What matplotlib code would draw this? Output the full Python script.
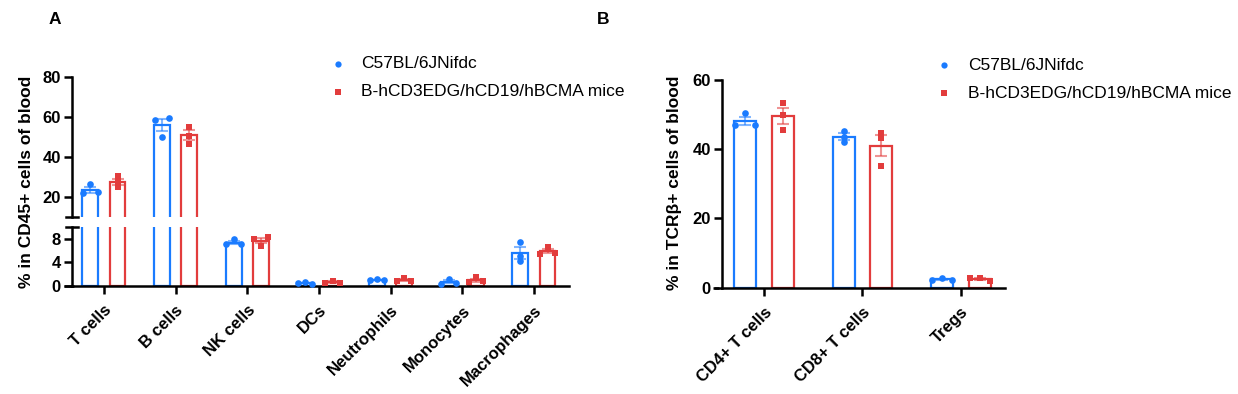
import numpy as np
import matplotlib
matplotlib.use("Agg")
import matplotlib.pyplot as plt
from matplotlib.lines import Line2D
import matplotlib.transforms as mtransforms

plt.rcParams['font.family'] = ['Liberation Sans', 'DejaVu Sans']

# ---------------- data ----------------
cats_A = ['T cells', 'B cells', 'NK cells', 'DCs', 'Neutrophils', 'Monocytes', 'Macrophages']
wt_A = [[22.5, 26.5, 22.3],
        [58.8, 50.3, 59.8],
        [7.1, 7.9, 7.0],
        [0.4, 0.6, 0.5],
        [1.0, 1.1, 1.0],
        [0.5, 1.2, 0.4],
        [7.5, 5.0, 4.3]]
tg_A = [[30.5, 27.8, 25.3],
        [55.3, 50.8, 46.7],
        [8.2, 7.9, 6.8],
        [0.5, 0.9, 0.5],
        [0.9, 1.3, 0.8],
        [0.8, 1.5, 0.7],
        [6.6, 5.6, 5.4]]

cats_B = ['CD4+ T cells', 'CD8+ T cells', 'Tregs']
wt_B = [[46.9, 50.6, 46.9],
        [45.3, 43.5, 42.1],
        [2.2, 2.8, 2.3]]
tg_B = [[53.3, 49.8, 45.6],
        [44.8, 43.2, 35.2],
        [2.0, 2.9, 2.7]]

series_names = ['C57BL/6JNifdc', 'B-hCD3EDG/hCD19/hBCMA mice']
ylabel_A = '% in CD45+ cells of blood'
ylabel_B = '% in TCR\u03b2+ cells of blood'
yticks_A_top = [20, 40, 60, 80]
yticks_A_bot = [0, 4, 8]
yticks_B = [0, 20, 40, 60]

BLUE = '#1a7bff'
RED = '#e23c3c'
colors = [BLUE, RED]
markers = ['o', 's']

W, H = 1238, 394
DPI = 100
fig = plt.figure(figsize=(W / DPI, H / DPI), dpi=DPI)


def px_rect(x0, y0, x1, y1):
    return [x0 / W, 1 - y1 / H, (x1 - x0) / W, (y1 - y0) / H]


SPW = 1.8
TICKL = 6.0
TICKFS = 12


def style_axis(ax, show_x=True):
    for s in ['top', 'right']:
        ax.spines[s].set_visible(False)
    for s in ['left', 'bottom']:
        ax.spines[s].set_linewidth(SPW)
    ax.tick_params(axis='both', width=SPW, length=TICKL, labelsize=TICKFS, pad=2)
    for lab in ax.get_yticklabels():
        lab.set_fontweight('bold')
    if not show_x:
        ax.spines['bottom'].set_visible(False)
        ax.tick_params(axis='x', bottom=False, labelbottom=False)


def mean_sem(v):
    v = np.asarray(v, float)
    return v.mean(), v.std(ddof=1) / np.sqrt(len(v))


BW = 0.22
OFF = 0.19
STEP = 0.1


def swarm_offsets(ax, vals, thresh_px=3.6):
    # cluster points that lie close together in pixel space and spread them sideways
    vals = list(vals)
    ypx = [ax.transData.transform((0, v))[1] for v in vals]
    order = sorted(range(len(vals)), key=lambda i: ypx[i])
    clusters = [[order[0]]]
    for i in order[1:]:
        if ypx[i] - ypx[clusters[-1][-1]] < thresh_px:
            clusters[-1].append(i)
        else:
            clusters.append([i])
    offs = [0.0] * len(vals)
    for cl in clusters:
        if len(cl) == 2:
            offs[cl[0]] = -STEP
            offs[cl[1]] = STEP
        elif len(cl) >= 3:
            desc = sorted(cl, key=lambda i: -ypx[i])
            pattern = [0, -STEP, STEP, -2 * STEP, 2 * STEP]
            for j, i in enumerate(desc):
                offs[i] = pattern[j % len(pattern)]
    return offs


def draw_series(axes_list, data, k):
    col = colors[k]
    sign = -1 if k == 0 else 1
    for i, vals in enumerate(data):
        xc = i + sign * OFF
        m, se = mean_sem(vals)
        for ax in axes_list:
            ax.bar(xc, m, width=BW, facecolor='white', edgecolor=col, linewidth=1.6, zorder=2)
            ax.errorbar(xc, m, yerr=se, fmt='none', ecolor=col, alpha=0.55, elinewidth=1.5,
                        capsize=4, capthick=1.5, zorder=4)
        for ax in axes_list:
            lo, hi = ax.get_ylim()
            sel = [v for v in vals if lo <= v <= hi]
            if not sel:
                continue
            offs = swarm_offsets(ax, sel)
            ax.plot([xc + o for o in offs], sel, linestyle='none', marker=markers[k],
                    markersize=4.8 if k == 0 else 4.6, color=col, markeredgewidth=0, zorder=5,
                    clip_on=False)


def xlabels(ax, cats):
    ax.set_xticks(range(len(cats)))
    ax.set_xticklabels(cats, rotation=45, ha='right', va='top', rotation_mode='anchor',
                       fontweight='bold', fontsize=12)
    ax.tick_params(axis='x', pad=6)


def extend_xaxis(ax, px):
    trans = mtransforms.blended_transform_factory(ax.transAxes, ax.transAxes)
    off = mtransforms.ScaledTranslation(-px / DPI, 0, fig.dpi_scale_trans)
    ax.add_line(Line2D([0, 0.02], [0, 0], transform=trans + off, color='black',
                       linewidth=SPW, clip_on=False, solid_capstyle='butt'))


# ---------------- Panel A (broken axis) ----------------
xlimA = (-0.446, 6.49)
axA_top = fig.add_axes(px_rect(72, 77.3, 569, 217.3))
axA_bot = fig.add_axes(px_rect(72, 226.7, 569, 286))
axA_top.set_ylim(10, 80)
axA_bot.set_ylim(0, 10)
for ax in (axA_top, axA_bot):
    ax.set_xlim(*xlimA)
axA_top.set_yticks(yticks_A_top)
axA_bot.set_yticks(yticks_A_bot)
style_axis(axA_top, show_x=False)
style_axis(axA_bot)
xlabels(axA_bot, cats_A)
extend_xaxis(axA_bot, 8)

draw_series([axA_top, axA_bot], wt_A, 0)
draw_series([axA_top, axA_bot], tg_A, 1)

# break caps
for ax, yy in ((axA_top, 0), (axA_bot, 1)):
    trans = mtransforms.blended_transform_factory(ax.transAxes, ax.transAxes)
    l = Line2D([-6 / 497, 6 / 497], [yy, yy], transform=trans, color='black',
               linewidth=SPW, clip_on=False)
    ax.add_line(l)

fig.text(27 / W, 1 - 182 / H, ylabel_A, rotation=90, ha='center', va='center',
         fontsize=12.5, fontweight='bold')

# ---------------- Panel B ----------------
axB = fig.add_axes(px_rect(722, 80, 1005, 287.7))
axB.set_xlim(-0.426, 2.447)
axB.set_ylim(0, 60)
axB.set_yticks(yticks_B)
style_axis(axB)
xlabels(axB, cats_B)
extend_xaxis(axB, 9)
draw_series([axB], wt_B, 0)
draw_series([axB], tg_B, 1)
fig.text(675 / W, 1 - 183 / H, ylabel_B, rotation=90, ha='center', va='center',
         fontsize=12.5, fontweight='bold')

# ---------------- legends (placed by hand) ----------------
for (mx, my, tx) in ((338, 64, 361), (944, 65, 968)):
    for k in range(2):
        yy = my + 28 * k
        fig.add_artist(Line2D([mx / W], [1 - yy / H], linestyle='none', marker=markers[k],
                              color=colors[k], markersize=4.5 if k == 0 else 4.3,
                              markeredgewidth=0))
        fig.text(tx / W, 1 - yy / H, series_names[k], fontsize=12.5, ha='left', va='center')

# panel letters
fig.text(55 / W, 1 - 20 / H, 'A', fontsize=12.5, fontweight='bold', ha='center', va='center')
fig.text(603 / W, 1 - 20 / H, 'B', fontsize=12.5, fontweight='bold', ha='center', va='center')

fig.savefig('out.png', dpi=DPI)
